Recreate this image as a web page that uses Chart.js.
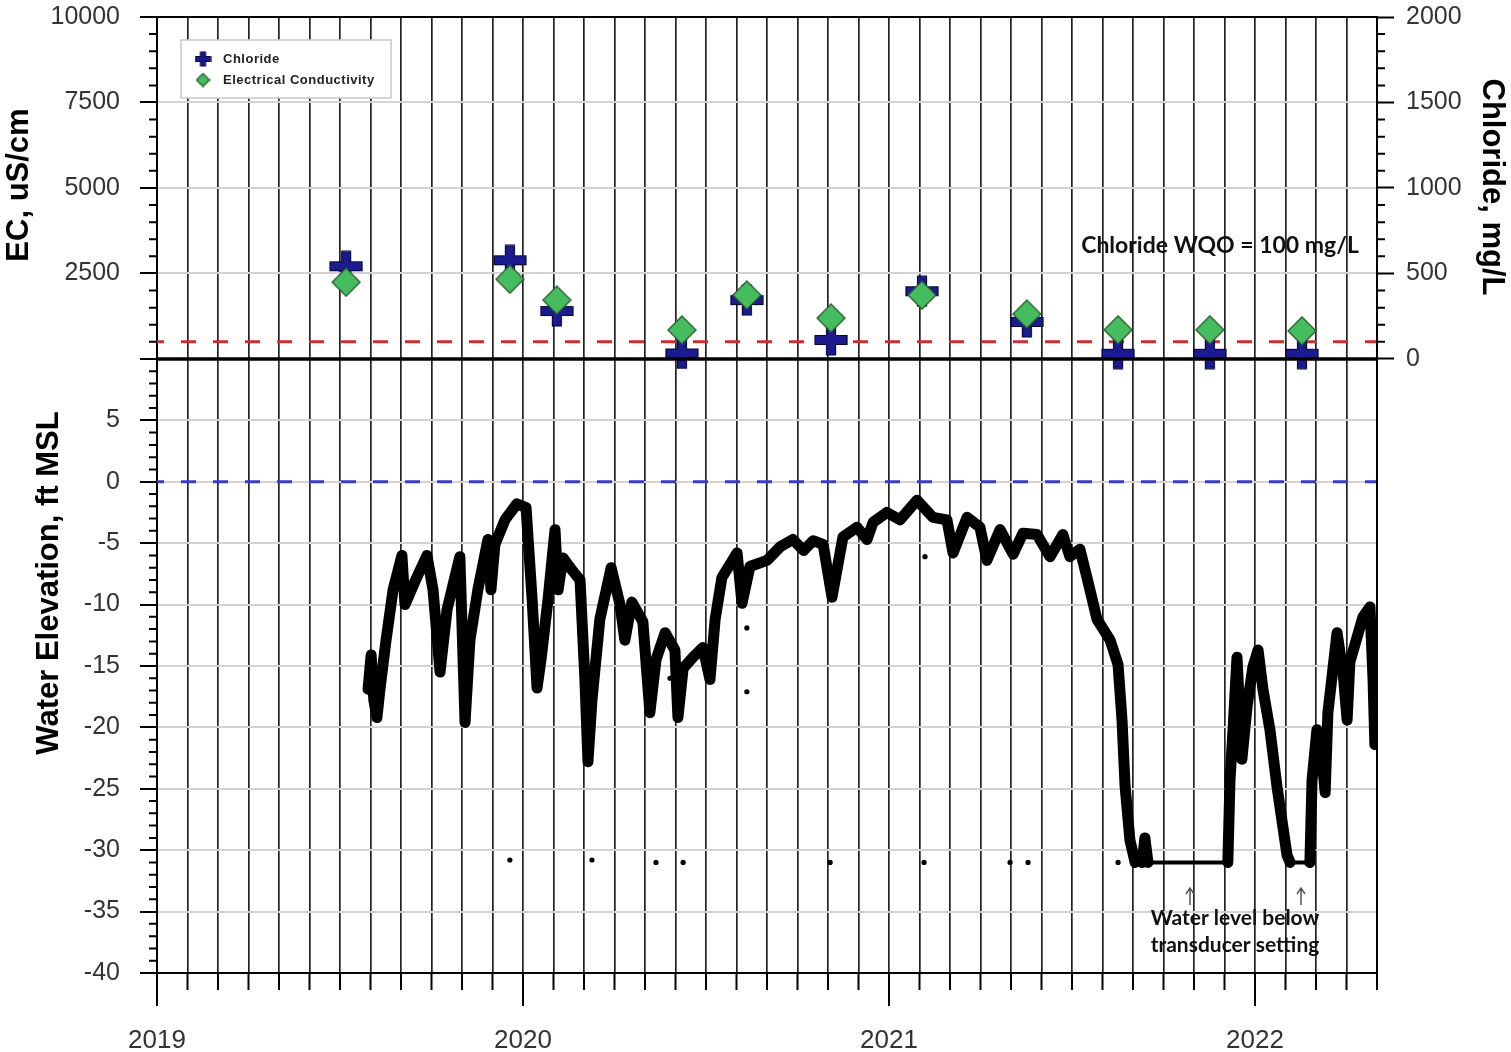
<!DOCTYPE html>
<html>
<head>
<meta charset="utf-8">
<title>EC, Chloride and Water Elevation</title>
<script src="https://cdn.jsdelivr.net/npm/chart.js@4.4.1/dist/chart.umd.min.js"></script>
<style>
  html, body { margin: 0; padding: 0; background: #fff; }
  #wrap { position: relative; width: 1511px; height: 1052px; }
</style>
</head>
<body>
<div id="wrap"><canvas id="chart" width="1511" height="1052"></canvas></div>
<script>
// x values are months since Jan 2019
const yearLabels = ['2019', '2020', '2021', '2022'];

// lab samples
const sampleMonth = [6.20, 11.57, 13.11, 17.21, 19.34, 22.10, 25.08, 28.52, 31.51, 34.52, 37.54];
const ecValues = [2245, 2332, 1720, 845, 1866, 1195, 1866, 1312, 850, 850, 820];
const chlorideValues = [542, 577, 280, 32, 344, 111, 396, 216, 30, 30, 30];
const chlorideWQO = 100;

// transducer record
const wlMonth = [
  6.92, 7.02, 7.11, 7.21, 7.31, 7.51, 7.74, 8.03, 8.13, 8.46,
  8.85, 9.05, 9.28, 9.51, 9.93, 10.10, 10.26, 10.52, 10.85, 10.95,
  11.08, 11.41, 11.80, 12.10, 12.30, 12.46, 12.59, 12.82, 13.05, 13.15,
  13.31, 13.61, 13.87, 14.03, 14.13, 14.26, 14.52, 14.89, 15.18, 15.34,
  15.57, 15.93, 16.16, 16.36, 16.66, 16.98, 17.08, 17.25, 17.57, 17.90,
  18.13, 18.30, 18.52, 19.02, 19.18, 19.44, 20.00, 20.43, 20.85, 21.20,
  21.51, 21.84, 22.13, 22.49, 22.95, 23.28, 23.48, 23.93, 24.36, 24.92,
  25.44, 25.90, 26.10, 26.56, 26.98, 27.21, 27.64, 28.07, 28.39, 28.85,
  29.28, 29.70, 29.93, 30.26, 30.49, 30.82, 31.25, 31.51, 31.64, 31.74,
  31.90, 32.07, 32.30, 32.39, 32.49, 35.11, 35.18, 35.28, 35.41, 35.57,
  35.74, 35.93, 36.10, 36.26, 36.49, 36.72, 37.05, 37.15, 37.80, 37.87,
  38.03, 38.20, 38.30, 38.39, 38.69, 38.89, 39.02, 39.11, 39.54, 39.77,
  39.87, 39.93
];
const wlElev = [
  -16.9, -14.1, -17.8, -19.2, -16.9, -12.9, -8.8, -6.0, -10.0, -8.1,
  -6.0, -8.8, -15.5, -10.4, -6.1, -19.6, -12.9, -8.8, -4.7, -8.8,
  -5.1, -3.1, -1.8, -2.1, -9.6, -16.8, -14.5, -9.6, -3.9, -8.8,
  -6.2, -7.2, -8.0, -16.1, -22.8, -17.8, -11.2, -7.0, -10.0, -12.9,
  -9.8, -11.4, -18.8, -14.5, -12.3, -13.7, -19.2, -15.2, -14.3, -13.5,
  -16.1, -11.2, -7.8, -5.8, -9.9, -6.9, -6.4, -5.3, -4.7, -5.6,
  -4.8, -5.1, -9.4, -4.5, -3.7, -4.7, -3.3, -2.5, -3.1, -1.5,
  -2.9, -3.1, -5.8, -2.9, -3.7, -6.4, -3.9, -5.9, -4.2, -4.3,
  -6.1, -4.3, -6.1, -5.5, -7.8, -11.2, -12.9, -14.9, -19.4, -24.8,
  -29.2, -31.0, -31.0, -29.0, -31.0, -31.0, -24.3, -20.2, -14.3, -22.6,
  -18.3, -15.1, -13.7, -16.9, -20.2, -24.8, -30.4, -31.0, -31.0, -24.3,
  -20.2, -22.6, -25.3, -18.8, -12.3, -15.6, -19.4, -14.7, -11.0, -10.2,
  -16.1, -21.4
];

// isolated logger readings
const dotMonth = [11.57, 14.26, 16.36, 17.25, 22.07, 25.15, 27.97, 28.56, 31.51, 16.82, 19.34, 19.34, 25.18];
const dotElev = [-30.8, -30.8, -31.0, -31.0, -31.0, -31.0, -31.0, -31.0, -31.0, -16.0, -11.9, -17.1, -6.1];

const FONT = "'Liberation Sans', Arial, sans-serif";
const NOTE_FONT = "Lato, 'Open Sans', sans-serif";

function makeCross(w, h, arm) {
  const c = document.createElement('canvas');
  c.width = w + 2; c.height = h + 2;
  const g = c.getContext('2d');
  const cx = (w + 2) / 2, cy = (h + 2) / 2, a = arm / 2;
  g.beginPath();
  g.moveTo(cx - a, cy - h / 2); g.lineTo(cx + a, cy - h / 2);
  g.lineTo(cx + a, cy - a); g.lineTo(cx + w / 2, cy - a);
  g.lineTo(cx + w / 2, cy + a); g.lineTo(cx + a, cy + a);
  g.lineTo(cx + a, cy + h / 2); g.lineTo(cx - a, cy + h / 2);
  g.lineTo(cx - a, cy + a); g.lineTo(cx - w / 2, cy + a);
  g.lineTo(cx - w / 2, cy - a); g.lineTo(cx - a, cy - a);
  g.closePath();
  g.fillStyle = '#1b1b8f';
  g.fill();
  g.lineWidth = 1.2;
  g.strokeStyle = '#05053a';
  g.stroke();
  return c;
}

function makeDiamond(s) {
  const c = document.createElement('canvas');
  c.width = s + 2; c.height = s + 2;
  const g = c.getContext('2d');
  const m = (s + 2) / 2;
  g.beginPath();
  g.moveTo(m, 1); g.lineTo(s + 1, m); g.lineTo(m, s + 1); g.lineTo(1, m);
  g.closePath();
  g.fillStyle = '#45bd5f';
  g.fill();
  g.lineWidth = 1.3;
  g.strokeStyle = '#2c5a30';
  g.stroke();
  return c;
}

const crossImg = makeCross(32, 30, 9);
const diamondImg = makeDiamond(28);
const crossSmall = makeCross(15, 14, 5);
const diamondSmall = makeDiamond(13);

const toPoints = (xs, ys) => xs.map((x, i) => ({ x: x, y: ys[i] }));

// y axes must not push the plot area down with label overflow
function fixWidth(w) {
  return s => { s.width = w; s.paddingTop = 0; s.paddingBottom = 0; };
}

const decorPlugin = {
  id: 'decor',
  afterDraw(chart) {
    const ctx = chart.ctx;
    const area = chart.chartArea;
    const { x, ec, wl, cl } = chart.scales;
    const sep = ec.getPixelForValue(0);
    ctx.save();
    ctx.strokeStyle = '#000';
    ctx.lineWidth = 2;

    // minor ticks
    ctx.beginPath();
    for (let v = 500; v < 10000; v += 500) {
      if (v % 2500 === 0) continue;
      const py = ec.getPixelForValue(v);
      ctx.moveTo(area.left - 8, py); ctx.lineTo(area.left, py);
    }
    for (let v = -39; v < 10; v++) {
      if (v % 5 === 0) continue;
      const py = wl.getPixelForValue(v);
      ctx.moveTo(area.left - 8, py); ctx.lineTo(area.left, py);
    }
    for (let v = 100; v < 2000; v += 100) {
      if (v % 500 === 0) continue;
      const py = cl.getPixelForValue(v);
      ctx.moveTo(area.right, py); ctx.lineTo(area.right + 8, py);
    }
    // month / year ticks
    for (let m = 0; m <= 40; m++) {
      const px = x.getPixelForValue(m);
      ctx.moveTo(px, area.bottom);
      ctx.lineTo(px, area.bottom + (m % 12 === 0 ? 33 : 17));
    }
    ctx.stroke();

    // frame and panel separator
    ctx.beginPath();
    ctx.moveTo(area.left, area.top); ctx.lineTo(area.right, area.top);
    ctx.lineTo(area.right, area.bottom);
    ctx.stroke();
    ctx.lineWidth = 3.5;
    ctx.beginPath();
    ctx.moveTo(area.left, sep); ctx.lineTo(area.right, sep);
    ctx.stroke();

    // axis titles
    ctx.fillStyle = '#000';
    ctx.font = 'bold 31px ' + FONT;
    ctx.textAlign = 'center';
    ctx.textBaseline = 'middle';
    ctx.save();
    ctx.translate(19, 185); ctx.rotate(-Math.PI / 2);
    ctx.fillText('EC, uS/cm', 0, 0);
    ctx.restore();
    ctx.save();
    ctx.translate(49, 583); ctx.rotate(-Math.PI / 2);
    ctx.fillText('Water Elevation, ft MSL', 0, 0);
    ctx.restore();
    ctx.save();
    ctx.translate(1492, 187); ctx.rotate(Math.PI / 2);
    ctx.fillText('Chloride, mg/L', 0, 0);
    ctx.restore();

    // legend
    ctx.fillStyle = '#fff';
    ctx.fillRect(181, 40, 210, 58);
    ctx.strokeStyle = '#c8c8c8';
    ctx.lineWidth = 1.5;
    ctx.strokeRect(181, 40, 210, 58);
    ctx.drawImage(crossSmall, 203 - crossSmall.width / 2, 59 - crossSmall.height / 2);
    ctx.drawImage(diamondSmall, 203 - diamondSmall.width / 2, 80 - diamondSmall.height / 2);
    ctx.fillStyle = '#222';
    ctx.font = 'bold 13px ' + FONT;
    ctx.letterSpacing = '0.5px';
    ctx.textAlign = 'left';
    ctx.fillText('Chloride', 223, 59);
    ctx.fillText('Electrical Conductivity', 223, 80);
    ctx.letterSpacing = '0px';

    // notes
    ctx.fillStyle = '#111';
    ctx.textAlign = 'center';
    ctx.font = 'bold 23px ' + NOTE_FONT;
    ctx.fillText('Chloride WQO = 100 mg/L', 1220, 246);
    ctx.font = 'bold 21px ' + NOTE_FONT;
    ctx.fillText('Water level below', 1235, 918);
    ctx.fillText('transducer setting', 1235, 945);

    ctx.strokeStyle = '#555';
    ctx.lineWidth = 1.5;
    [1190, 1301].forEach(ax => {
      ctx.beginPath();
      ctx.moveTo(ax, 905); ctx.lineTo(ax, 888);
      ctx.moveTo(ax - 4, 894); ctx.lineTo(ax, 888); ctx.lineTo(ax + 4, 894);
      ctx.stroke();
    });
    ctx.restore();
  }
};

const tickFont = { family: FONT, size: 25 };

new Chart(document.getElementById('chart'), {
  type: 'line',
  data: {
    datasets: [
      {
        label: 'Electrical Conductivity',
        data: toPoints(sampleMonth, ecValues),
        yAxisID: 'ec',
        showLine: false,
        pointStyle: diamondImg,
        pointRadius: 14,
        clip: false,
        order: 1
      },
      {
        label: 'Chloride',
        data: toPoints(sampleMonth, chlorideValues),
        yAxisID: 'cl',
        showLine: false,
        pointStyle: crossImg,
        pointRadius: 16,
        clip: false,
        order: 2
      },
      {
        label: 'Chloride WQO',
        data: [{ x: 0, y: chlorideWQO }, { x: 40, y: chlorideWQO }],
        yAxisID: 'cl',
        borderColor: '#d22b2b',
        borderWidth: 3,
        borderDash: [15, 17],
        borderDashOffset: 8,
        pointRadius: 0,
        order: 3
      },
      {
        label: 'Zero',
        data: [{ x: 0, y: 0 }, { x: 40, y: 0 }],
        yAxisID: 'wl',
        borderColor: '#3a3ad0',
        borderWidth: 3,
        borderDash: [15, 17],
        borderDashOffset: 8,
        pointRadius: 0,
        order: 5
      },
      {
        label: 'Water Elevation',
        data: toPoints(wlMonth, wlElev),
        yAxisID: 'wl',
        borderColor: '#000',
        borderJoinStyle: 'round',
        borderCapStyle: 'round',
        pointRadius: 0,
        tension: 0,
        segment: {
          borderWidth: c => (c.p0.parsed.y < -30.5 && c.p1.parsed.y < -30.5) ? 4 : 11
        },
        order: 4
      },
      {
        label: 'Readings',
        data: toPoints(dotMonth, dotElev),
        yAxisID: 'wl',
        showLine: false,
        pointRadius: 2.6,
        pointBackgroundColor: '#000',
        pointBorderWidth: 0,
        order: 4
      }
    ]
  },
  options: {
    responsive: false,
    animation: false,
    events: [],
    layout: { padding: { top: 14, left: 0, right: 0, bottom: 0 } },
    plugins: { legend: { display: false }, tooltip: { enabled: false } },
    scales: {
      x: {
        type: 'linear',
        position: 'bottom',
        min: 0,
        max: 40,
        afterFit: s => { s.height = 79; },
        ticks: {
          stepSize: 1,
          autoSkip: false,
          maxRotation: 0,
          padding: 52,
          color: '#333',
          font: { family: FONT, size: 26 },
          callback: v => (v % 12 === 0 ? yearLabels[v / 12] : '')
        },
        grid: { color: '#222', lineWidth: 1.7, drawTicks: false },
        border: { color: '#000', width: 2 }
      },
      wl: {
        type: 'linear',
        position: 'left',
        stack: 'left',
        stackWeight: 616,
        min: -40,
        max: 10,
        afterFit: fixWidth(157),
        ticks: {
          stepSize: 5,
          padding: 20,
          color: '#333',
          font: tickFont,
          callback: v => (v === 10 ? '' : String(v))
        },
        grid: {
          color: c => (c.tick.value === -40 || c.tick.value === 10) ? 'rgba(0,0,0,0)' : '#d2d2d2',
          lineWidth: 2,
          tickLength: 17,
          tickColor: '#000',
          tickWidth: 2
        },
        border: { color: '#000', width: 2 }
      },
      ec: {
        type: 'linear',
        position: 'left',
        stack: 'left',
        stackWeight: 343,
        min: 0,
        max: 10000,
        afterFit: fixWidth(157),
        ticks: {
          stepSize: 2500,
          padding: 20,
          color: '#333',
          font: tickFont,
          callback: v => (v === 0 ? '' : String(v))
        },
        grid: {
          color: c => (c.tick.value === 0 || c.tick.value === 10000) ? 'rgba(0,0,0,0)' : '#d2d2d2',
          lineWidth: 2,
          tickLength: 17,
          tickColor: '#000',
          tickWidth: 2
        },
        border: { color: '#000', width: 2 }
      },
      cl: {
        type: 'linear',
        position: 'right',
        stack: 'right',
        stackWeight: 343,
        min: 0,
        max: 2000,
        afterFit: fixWidth(134),
        ticks: {
          stepSize: 500,
          padding: 12,
          color: '#333',
          font: tickFont,
          callback: v => String(v)
        },
        grid: { drawOnChartArea: false, tickLength: 17, tickColor: '#000', tickWidth: 2 },
        border: { color: '#000', width: 2 }
      },
      rightLower: {
        type: 'linear',
        position: 'right',
        stack: 'right',
        stackWeight: 616,
        min: 0,
        max: 1,
        afterFit: fixWidth(134),
        ticks: { display: false },
        grid: { drawOnChartArea: false, drawTicks: false },
        border: { color: '#000', width: 2 }
      }
    }
  },
  plugins: [decorPlugin]
});
</script>
</body>
</html>
